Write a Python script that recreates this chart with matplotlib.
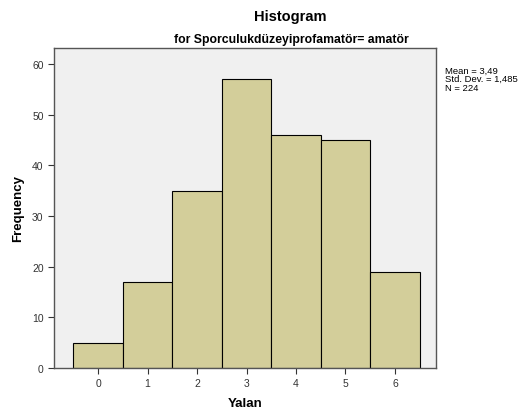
import numpy as np
import matplotlib
matplotlib.use('Agg')
import matplotlib.pyplot as plt

plt.rcParams['font.family'] = ['Liberation Sans', 'DejaVu Sans']

# Histogram data
values = [0, 1, 2, 3, 4, 5, 6]
counts = [5, 17, 35, 57, 46, 45, 19]
yticks = [0, 10, 20, 30, 40, 50, 60]
stats_lines = ["Mean = 3,49", "Std. Dev. = 1,485", "N = 224"]

fig = plt.figure(figsize=(5.28, 4.10), dpi=100)
ax = fig.add_axes([0.1023, 0.1, 0.7235, 0.7805])
ax.set_facecolor('#f0f0f0')

ax.bar(values, counts, width=1.0, color='#d3ce9a', edgecolor='black', linewidth=0.8)

ax.set_xlim(-0.89, 6.83)
ax.set_ylim(0, 63.2)
ax.set_xticks(values)
ax.set_yticks(yticks)
ax.tick_params(labelsize=7.5, colors='#333333', length=4, width=0.8)
for s in ax.spines.values():
    s.set_color('#555555')
    s.set_linewidth(1.0)

ax.set_xlabel('Yalan', fontsize=9.5, fontweight='bold', labelpad=6)
ax.set_ylabel('Frequency', fontsize=9.5, fontweight='bold', labelpad=6)

fig.text(0.549, 0.958, 'Histogram', ha='center', va='center', fontsize=10.5, fontweight='bold')
fig.text(0.551, 0.902, 'for Sporculukdüzeyiprofamatör= amatör', ha='center', va='center',
         fontsize=8.8, fontweight='bold')
fig.text(0.843, 0.838, "\n".join(stats_lines), ha='left', va='top', fontsize=6.8,
         linespacing=0.95)

fig.savefig('out.png', dpi=100, facecolor='white')
